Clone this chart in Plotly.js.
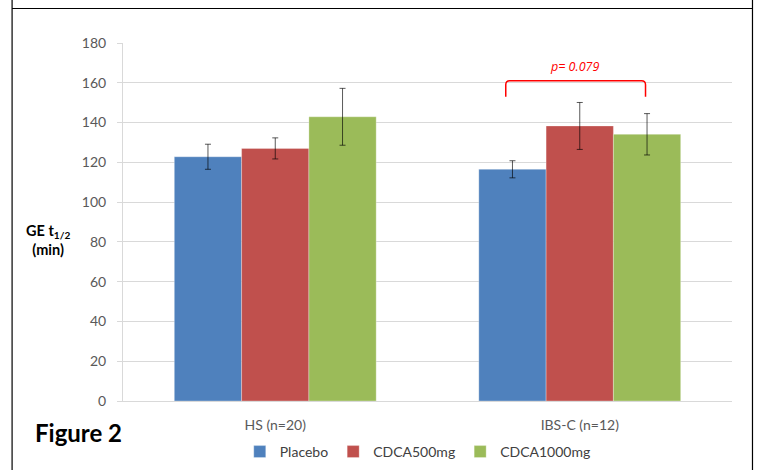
<!DOCTYPE html>
<html>
<head>
<meta charset="utf-8">
<script src="https://cdn.plot.ly/plotly-3.0.1.min.js"></script>
<style>
  html, body { margin: 0; padding: 0; background: #ffffff; }
  #chart { width: 758px; height: 470px; }
</style>
</head>
<body>
<div id="chart"></div>
<script>
// ---- Data ----
const categories = ["HS (n=20)", "IBS-C (n=12)"];
const seriesNames = ["Placebo", "CDCA500mg", "CDCA1000mg"];
const placebo = [122.8, 116.5];
const placeboErr = [6.3, 4.3];
const cdca500 = [127.0, 138.3];
const cdca500Err = [5.3, 11.8];
const cdca1000 = [142.9, 134.1];
const cdca1000Err = [14.3, 10.4];
const yTicks = [0, 20, 40, 60, 80, 100, 120, 140, 160, 180];
const pText = "p= 0.079";

// ---- Layout helpers ----
const W = 758, H = 470;
const M = { l: 123, r: 25.5, t: 43, b: 69, autoexpand: false };
const PW = W - M.l - M.r, PH = H - M.t - M.b;
const px = x => (x - M.l) / PW;          // pixel x -> paper x
const py = y => (H - M.b - y) / PH;      // pixel y -> paper y

const colors = ["#4F81BD", "#C0504D", "#9BBB59"];
const values = [placebo, cdca500, cdca1000];
const errs = [placeboErr, cdca500Err, cdca1000Err];

const traces = seriesNames.map((name, i) => ({
  type: "bar",
  name: name,
  x: categories,
  y: values[i],
  marker: { color: colors[i], line: { color: "rgba(255,255,255,0.5)", width: 0.6 } },
  error_y: {
    type: "data", array: errs[i], visible: true,
    color: "rgba(0,0,0,0.65)", thickness: 1, width: 3
  },
  hoverinfo: "skip"
}));

const font = "Lato, 'Open Sans', sans-serif";
const textGrey = "#595959";

const shapes = [
  // outer frame (page box)
  { type: "line", xref: "paper", yref: "paper", x0: px(12), x1: px(12), y0: py(0), y1: py(470), line: { color: "#000", width: 1.2 } },
  { type: "line", xref: "paper", yref: "paper", x0: px(753), x1: px(753), y0: py(0), y1: py(470), line: { color: "#000", width: 1.2 } },
  { type: "line", xref: "paper", yref: "paper", x0: px(12), x1: px(753), y0: py(8.5), y1: py(8.5), line: { color: "#000", width: 1.2 } },
  // significance bracket (IBS-C placebo vs CDCA1000mg)
  {
    type: "path", xref: "x", yref: "y",
    path: "M 0.757 153 L 0.757 159 Q 0.757 161 0.770 161 L 1.203 161 Q 1.216 161 1.216 159 L 1.216 153",
    line: { color: "#FF0000", width: 1.5 }
  }
];

const annotations = [
  { xref: "x", yref: "y", x: 0.984, y: 168, text: "<i>" + pText + "</i>", showarrow: false,
    font: { family: "'Open Sans', Lato, sans-serif", size: 12.5, color: "#FF0000" } },
  { xref: "paper", yref: "paper", x: px(48), y: py(240), xanchor: "center", yanchor: "middle",
    text: "<b>GE t<sub>1/2</sub></b><br><b>(min)</b>", showarrow: false, align: "center",
    font: { family: font, size: 14.5, color: "#000" } },
  { xref: "paper", yref: "paper", x: px(78), y: py(432), xanchor: "center", yanchor: "middle",
    text: "<b>Figure 2</b>", showarrow: false,
    font: { family: font, size: 24, color: "#000" } }
];

const layout = {
  width: W, height: H,
  margin: M,
  paper_bgcolor: "#ffffff",
  plot_bgcolor: "#ffffff",
  barmode: "group",
  bargap: 0.337,
  bargroupgap: 0,
  showlegend: true,
  legend: {
    orientation: "h", x: px(418), xanchor: "center", y: py(452), yanchor: "middle",
    font: { family: font, size: 14, color: "#404040" }, bgcolor: "rgba(0,0,0,0)",
    traceorder: "normal", itemclick: false
  },
  xaxis: {
    type: "category",
    showgrid: false, zeroline: false,
    showline: true, linecolor: "#D9D9D9", linewidth: 1,
    ticks: "", ticklen: 0, ticklabelstandoff: 11,
    tickfont: { family: font, size: 14, color: textGrey },
    fixedrange: true
  },
  yaxis: {
    range: [0, 180], tickvals: yTicks, ticktext: yTicks.map(String),
    showgrid: true, gridcolor: "#D9D9D9", gridwidth: 1,
    zeroline: false,
    showline: true, linecolor: "#D9D9D9", linewidth: 1,
    ticks: "outside", ticklen: 5, tickcolor: "#D9D9D9", ticklabelstandoff: 8,
    tickfont: { family: font, size: 14, color: textGrey },
    fixedrange: true
  },
  shapes: shapes,
  annotations: annotations
};

Plotly.newPlot("chart", traces, layout, { staticPlot: true, displayModeBar: false });
</script>
</body>
</html>
